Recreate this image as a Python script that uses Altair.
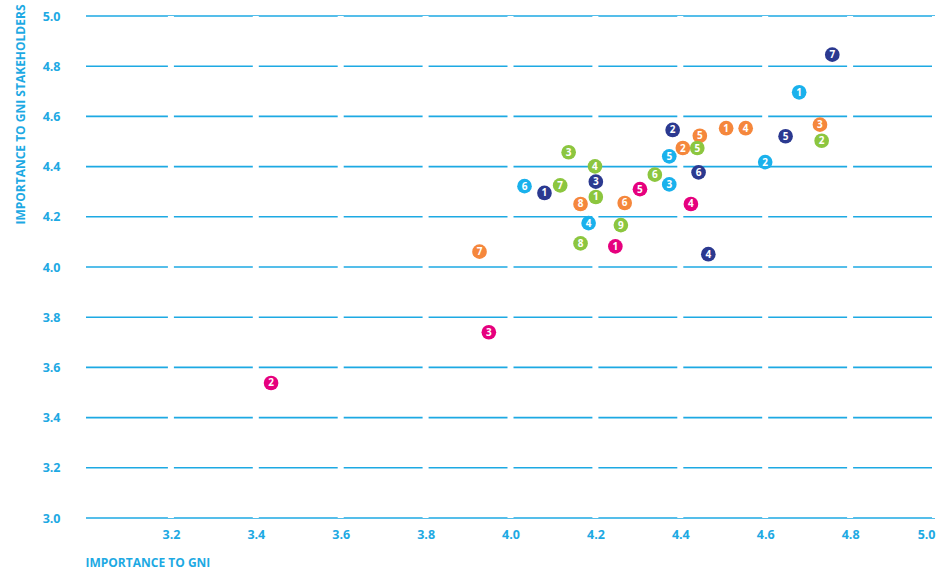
import altair as alt
import pandas as pd

# Issue scores per stakeholder group: importance to GNI (x) vs. importance to stakeholders (y)
groups = ["sky"] * 6 + ["navy"] * 7 + ["orange"] * 8 + ["green"] * 9 + ["magenta"] * 5
labels = [1, 2, 3, 4, 5, 6,
          1, 2, 3, 4, 5, 6, 7,
          1, 2, 3, 4, 5, 6, 7, 8,
          1, 2, 3, 4, 5, 6, 7, 8, 9,
          1, 2, 3, 4, 5]
gni = [4.680, 4.600, 4.374, 4.184, 4.374, 4.033,
       4.080, 4.382, 4.201, 4.466, 4.648, 4.443, 4.758,
       4.508, 4.406, 4.729, 4.554, 4.446, 4.269, 3.927, 4.165,
       4.201, 4.733, 4.137, 4.199, 4.440, 4.340, 4.117, 4.165, 4.260,
       4.247, 3.436, 3.949, 4.425, 4.305]
stakeholders = [4.696, 4.418, 4.329, 4.175, 4.441, 4.322,
                4.295, 4.546, 4.340, 4.051, 4.521, 4.377, 4.846,
                4.553, 4.474, 4.567, 4.553, 4.523, 4.255, 4.061, 4.251,
                4.279, 4.503, 4.457, 4.401, 4.474, 4.368, 4.325, 4.094, 4.167,
                4.082, 3.538, 3.740, 4.251, 4.310]

x_ticks = [3.2, 3.4, 3.6, 3.8, 4.0, 4.2, 4.4, 4.6, 4.8, 5.0]
y_ticks = [3.0, 3.2, 3.4, 3.6, 3.8, 4.0, 4.2, 4.4, 4.6, 4.8, 5.0]

group_names = ["sky", "navy", "orange", "green", "magenta"]
group_colors = ["#1AB1EC", "#2B3990", "#F5873C", "#8CC63F", "#E6007E"]

BLUE = "#1DA9E3"
FONT = "Open Sans"

points = pd.DataFrame({"group": groups, "label": [str(v) for v in labels],
                       "gni": gni, "stake": stakeholders})
hlines = pd.DataFrame({"y": y_ticks, "x0": [3.0] * len(y_ticks), "x1": [5.0] * len(y_ticks)})
vgaps = pd.DataFrame({"x": x_ticks})

xscale = alt.Scale(domain=[3.0, 5.0], nice=False, zero=False)
yscale = alt.Scale(domain=[3.0, 5.0], nice=False, zero=False)

x_axis = alt.Axis(values=x_ticks, format=".1f", grid=False, domain=False, ticks=False,
                  labelPadding=10, labelFontSize=12.5, labelFontWeight="bold",
                  labelColor=BLUE, labelFont=FONT,
                  title="IMPORTANCE TO GNI", titleFont=FONT, titleFontSize=12,
                  titleFontWeight="bold", titleColor=BLUE, titleX=-1, titleY=44,
                  titleAlign="left", titleBaseline="middle")
y_axis = alt.Axis(values=y_ticks, format=".1f", grid=False, domain=False, ticks=False,
                  labelPadding=26, labelFontSize=12.5, labelFontWeight="bold",
                  labelColor=BLUE, labelFont=FONT,
                  title="IMPORTANCE TO GNI STAKEHOLDERS", titleFont=FONT, titleFontSize=12,
                  titleFontWeight="bold", titleColor=BLUE, titleX=-66, titleY=-12,
                  titleAngle=270, titleAlign="right", titleBaseline="middle")

# horizontal guide lines
grid = alt.Chart(hlines).mark_rule(color=BLUE, strokeWidth=1.6).encode(
    x=alt.X("x0:Q", scale=xscale, axis=x_axis),
    x2="x1:Q",
    y=alt.Y("y:Q", scale=yscale, axis=y_axis),
)

# white breaks in the guide lines at each x tick
gaps = alt.Chart(vgaps).mark_rule(color="white", strokeWidth=6).encode(
    x=alt.X("x:Q", scale=xscale),
)

dots = alt.Chart(points).mark_circle(size=215, opacity=1).encode(
    x=alt.X("gni:Q", scale=xscale),
    y=alt.Y("stake:Q", scale=yscale),
    color=alt.Color("group:N", scale=alt.Scale(domain=group_names, range=group_colors),
                    legend=None),
)

numbers = alt.Chart(points).mark_text(color="white", font=FONT, fontSize=10,
                                      fontWeight="bold", baseline="middle",
                                      align="center", dy=0.5).encode(
    x=alt.X("gni:Q", scale=xscale),
    y=alt.Y("stake:Q", scale=yscale),
    text="label:N",
)

chart = alt.layer(grid, gaps, dots, numbers).properties(
    width=849, height=502,
    autosize=alt.AutoSizeParams(type="none"),
    padding={"left": 86, "top": 16, "right": 12, "bottom": 52},
    background="white",
).configure_view(stroke=None)

chart.save("out.html", embed_options={"renderer": "svg", "actions": False})
